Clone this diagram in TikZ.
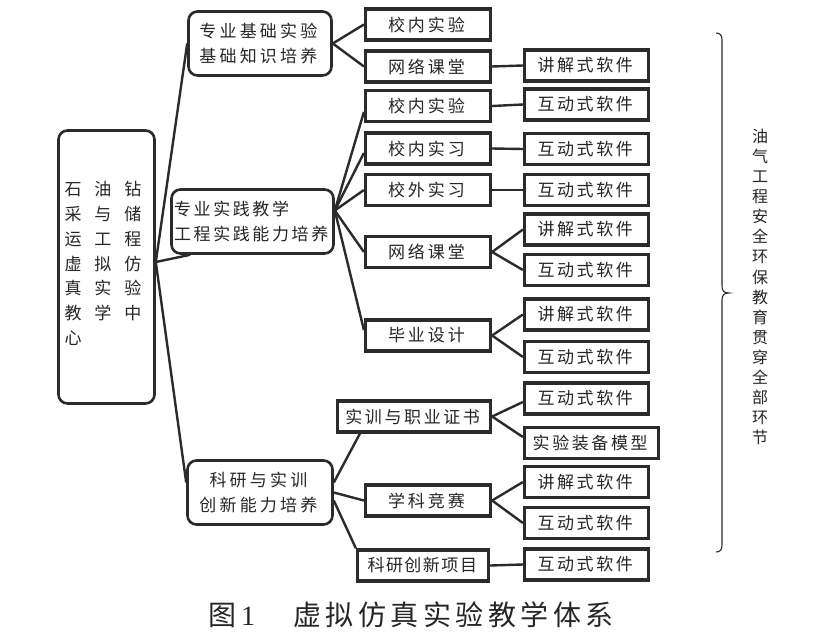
\documentclass[tikz,border=0pt]{standalone}
\usepackage{fontspec}
\setmainfont{Noto Sans CJK SC}
\newfontfamily\digitfont{Liberation Serif}
\usetikzlibrary{calc}
\makeatletter
\newcommand\spc[2]{\def\spc@gap{#1}\spc@loop#2\relax\hskip-\spc@gap\relax}
\def\spc@loop#1{\ifx\relax#1\else#1\hskip\spc@gap\relax\expandafter\spc@loop\fi}
\makeatother
\definecolor{ink}{HTML}{262626}
\definecolor{edge}{HTML}{2B2B2B}
\tikzset{
  rbox/.style={draw=edge, line width=2.6pt, rounded corners=9pt, align=center, inner sep=0pt,
    font=\fontsize{17}{25}\selectfont, text=ink},
  sbox/.style={draw=edge, line width=3.2pt, inner sep=0pt, minimum height=31pt,
    font=\fontsize{17}{20}\selectfont, text=ink},
  colA/.style={sbox, minimum width=125pt},
  colB/.style={sbox, minimum width=124pt},
  conn/.style={draw=edge, line width=2.4pt},
  bracestyle/.style={draw=edge, line width=1.1pt},
}
\begin{document}
\begin{tikzpicture}[x=1pt,y=-1pt]
\fill[white] (0,0) rectangle (818,634);
\useasboundingbox (0,0) rectangle (818,634);

% root
\node[rbox, align=left, minimum width=96pt, minimum height=273pt,
  font=\fontsize{17}{24.8}\selectfont] (root) at (106.5,267)
  {\hspace*{6pt}\spc{13pt}{石油钻}\\\hspace*{6pt}\spc{13pt}{采与储}\\\hspace*{6pt}\spc{13pt}{运工程}\\\hspace*{6pt}\spc{13pt}{虚拟仿}\\\hspace*{6pt}\spc{13pt}{真实验}\\\hspace*{6pt}\spc{13pt}{教学中}\\\hspace*{6pt}心\rule[-8pt]{0pt}{0pt}};

% level 1
\node[rbox, minimum width=143pt, minimum height=64pt] (A) at (260,43.5)
  {\spc{3.2pt}{专业基础实验}\\\spc{3.2pt}{基础知识培养}};
\node[rbox, align=left, minimum width=162pt, minimum height=64pt] (B) at (252.5,221.5)
  {\spc{2.6pt}{专业实践教学}\\\spc{2.6pt}{工程实践能力培养}};
\node[rbox, minimum width=145pt, minimum height=64pt] (C) at (260,492.5)
  {\spc{3.2pt}{科研与实训}\\\spc{3.2pt}{创新能力培养}};

% level 2
\node[colA] (s1) at (428,24.5) {\spc{3pt}{校内实验}};
\node[colA] (s2) at (428,66.5) {\spc{3pt}{网络课堂}};
\node[colA] (s3) at (428,106) {\spc{3pt}{校内实验}};
\node[colA] (s4) at (428,148.5) {\spc{3pt}{校内实习}};
\node[colA] (s5) at (428,190) {\spc{3pt}{校外实习}};
\node[colA] (s6) at (428,252) {\spc{3pt}{网络课堂}};
\node[colA] (s7) at (428,335.5) {\spc{3pt}{毕业设计}};
\node[sbox, minimum width=153pt] (s8) at (414,416.5) {\spc{2.6pt}{实训与职业证书}};
\node[colA] (s9) at (428,500.5) {\spc{3pt}{学科竞赛}};
\node[sbox, minimum width=131pt] (s10) at (423,565.5) {\spc{1.5pt}{科研创新项目}};

% level 3
\node[colB] (t1) at (586.5,65.5) {\spc{2.6pt}{讲解式软件}};
\node[colB] (t2) at (586.5,104.5) {\spc{2.6pt}{互动式软件}};
\node[colB] (t3) at (586.5,149) {\spc{2.6pt}{互动式软件}};
\node[colB] (t4) at (586.5,190) {\spc{2.6pt}{互动式软件}};
\node[colB] (t5) at (586.5,229.5) {\spc{2.6pt}{讲解式软件}};
\node[colB] (t6) at (586.5,270) {\spc{2.6pt}{互动式软件}};
\node[colB] (t7) at (586.5,314.5) {\spc{2.6pt}{讲解式软件}};
\node[colB] (t8) at (586.5,357) {\spc{2.6pt}{互动式软件}};
\node[colB] (t9) at (586.5,398.5) {\spc{2.6pt}{互动式软件}};
\node[sbox, minimum width=134pt] (t10) at (591.5,443) {\spc{2.6pt}{实验装备模型}};
\node[colB] (t11) at (586.5,482) {\spc{2.6pt}{讲解式软件}};
\node[colB] (t12) at (586.5,523) {\spc{2.6pt}{互动式软件}};
\node[colB] (t13) at (586.5,564.5) {\spc{2.6pt}{互动式软件}};

% connectors from root
\draw[conn] ([yshift=5pt]root.east) -- (A.west);
\draw[conn] ([yshift=5pt]root.east) -- ([xshift=20pt]B.south west);
\draw[conn] ([yshift=5pt]root.east) -- ([yshift=10pt]C.west);

% from A
\draw[conn] (A.east) -- (s1.west);
\draw[conn] (A.east) -- (s2.west);
% from B
\draw[conn] ([yshift=11pt]B.east) -- ([yshift=-6pt]s3.west);
\draw[conn] ([yshift=11pt]B.east) -- ([yshift=-4.5pt]s4.west);
\draw[conn] ([yshift=11pt]B.east) -- (s5.west);
\draw[conn] ([yshift=11pt]B.east) -- (s6.west);
\draw[conn] ([yshift=11pt]B.east) -- ([yshift=5.5pt]s7.west);
% from C
\draw[conn] ([yshift=10pt]C.east) -- ([xshift=24pt]s8.south west);
\draw[conn] (C.east) -- (s9.west);
\draw[conn] ([yshift=-8pt]C.east) -- (s10.north west);

% level 2 -> level 3
\draw[conn] (s2.east) -- (t1.west);
\draw[conn] (s3.east) -- (t2.west);
\draw[conn] (s4.east) -- (t3.west);
\draw[conn] (s5.east) -- (t4.west);
\draw[conn] (s6.east) -- (t5.west);
\draw[conn] (s6.east) -- (t6.west);
\draw[conn] (s7.east) -- (t7.west);
\draw[conn] (s7.east) -- (t8.west);
\draw[conn] (s8.east) -- ([yshift=-3.5pt]t9.west);
\draw[conn] (s8.east) -- ([yshift=6pt]t10.west);
\draw[conn] (s9.east) -- (t11.west);
\draw[conn] (s9.east) -- (t12.west);
\draw[conn] (s10.east) -- (t13.west);

% brace
\draw[bracestyle] (716,33) .. controls (720,33) and (722,35) .. (722,40) -- (722,286)
  .. controls (722,291) and (724,293) .. (729,293)
  .. controls (724,293) and (722,295) .. (722,300) -- (722,545)
  .. controls (722,550) and (720,552) .. (716,552);

% side text
\node[font=\fontsize{16}{20.1}\selectfont, align=center, text=ink, inner sep=0pt] (side) at (760,287)
  {油\\气\\工\\程\\安\\全\\环\\保\\教\\育\\贯\\穿\\全\\部\\环\\节};

% caption
\node[anchor=west, inner sep=0pt, font=\fontsize{28}{30}\selectfont, text=ink] (cap) at (208,615)
  {图\hskip5pt{\digitfont 1}\hskip38pt\spc{4.5pt}{虚拟仿真实验教学体系}};
\end{tikzpicture}
\end{document}
